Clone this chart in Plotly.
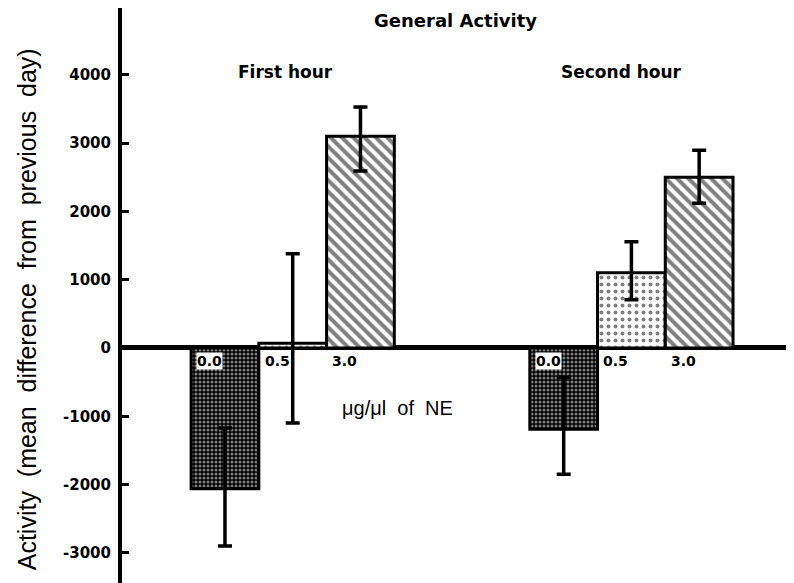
import plotly.graph_objects as go

# ---- data ----
hours = ["First hour", "Second hour"]
doses = ["0.0", "0.5", "3.0"]
# mean difference from previous day, per dose: [first hour, second hour]
means = {
    "0.0": [-2060, -1190],
    "0.5": [70, 1100],
    "3.0": [3100, 2500],
}
err_plus = {
    "0.0": [890, 760],
    "0.5": [1310, 455],
    "3.0": [430, 395],
}
err_minus = {
    "0.0": [840, 660],
    "0.5": [1170, 395],
    "3.0": [510, 380],
}
y_ticks = [-3000, -2000, -1000, 0, 1000, 2000, 3000, 4000]
title_text = "General Activity"
x_label = "\u03bcg/\u03bcl\u00a0 of\u00a0 NE"
y_label = "Activity\u00a0 (mean\u00a0 difference\u00a0 from\u00a0 previous\u00a0 day)"

# ---- styles ----
patterns = {
    "0.0": dict(shape=".", fgcolor="white", bgcolor="black", size=4, solidity=0.45),
    "0.5": dict(shape=".", fgcolor="black", bgcolor="white", size=7, solidity=0.25),
    "3.0": dict(shape="\\", fgcolor="black", bgcolor="white", size=8, solidity=0.5),
}
GROUP_GAP = 5

fig = go.Figure()
for di, d in enumerate(doses):
    xs = [gi * GROUP_GAP + di for gi in range(len(hours))]
    fig.add_trace(go.Bar(
        x=xs, y=means[d], width=1.0,
        marker=dict(color="black" if d == "0.0" else "white",
                    line=dict(color="black", width=3),
                    pattern=patterns[d]),
        error_y=dict(type="data", symmetric=False, array=err_plus[d],
                     arrayminus=err_minus[d], color="black",
                     thickness=3.5, width=7),
        showlegend=False,
    ))

bold = dict(family="DejaVu Sans", size=15, color="black", weight="bold")
annotations = []
for gi in range(len(hours)):
    for di, d in enumerate(doses):
        annotations.append(dict(
            x=gi * GROUP_GAP + di - 0.5 + 0.07, y=-195, xref="x", yref="y",
            text=d, showarrow=False, xanchor="left", yanchor="middle",
            font=dict(family="DejaVu Sans", size=14, color="black", weight="bold"),
            bgcolor="white" if d == "0.0" else "rgba(0,0,0,0)", borderpad=0,
        ))
annotations += [
    dict(x=3.40, y=4800, xref="x", yref="y", text=title_text, showarrow=False,
         xanchor="center", yanchor="middle", font=dict(bold, size=18)),
    dict(x=0.89, y=4040, xref="x", yref="y", text=hours[0], showarrow=False,
         xanchor="center", yanchor="middle", font=dict(bold, size=17)),
    dict(x=5.86, y=4040, xref="x", yref="y", text=hours[1], showarrow=False,
         xanchor="center", yanchor="middle", font=dict(bold, size=17)),
    dict(x=2.55, y=-880, xref="x", yref="y", text=x_label, showarrow=False,
         xanchor="center", yanchor="middle",
         font=dict(family="Liberation Sans", size=20, color="black")),
    dict(x=-0.141, y=0.4765, xref="paper", yref="paper", text=y_label,
         showarrow=False, textangle=-90, xanchor="center", yanchor="middle",
         font=dict(family="Liberation Sans", size=25, color="black")),
]

# the page body adds an 8 px offset, so the figure is 8 px smaller each way
fig.update_layout(
    width=786, height=575,
    margin=dict(l=114, r=0, t=0, b=0),
    paper_bgcolor="white", plot_bgcolor="white",
    barmode="overlay",
    annotations=annotations,
    xaxis=dict(range=[-1.52, 8.40], visible=False, fixedrange=True),
    yaxis=dict(range=[-3441, 4978], tickvals=y_ticks,
               ticktext=[str(v) for v in y_ticks],
               showgrid=False, zeroline=True, zerolinecolor="black",
               zerolinewidth=5, showline=True, linecolor="black",
               linewidth=4, ticks="inside", ticklen=7, tickwidth=3,
               tickcolor="black", tickfont=bold, ticklabelstandoff=4),
)

fig.write_html("out.html")
